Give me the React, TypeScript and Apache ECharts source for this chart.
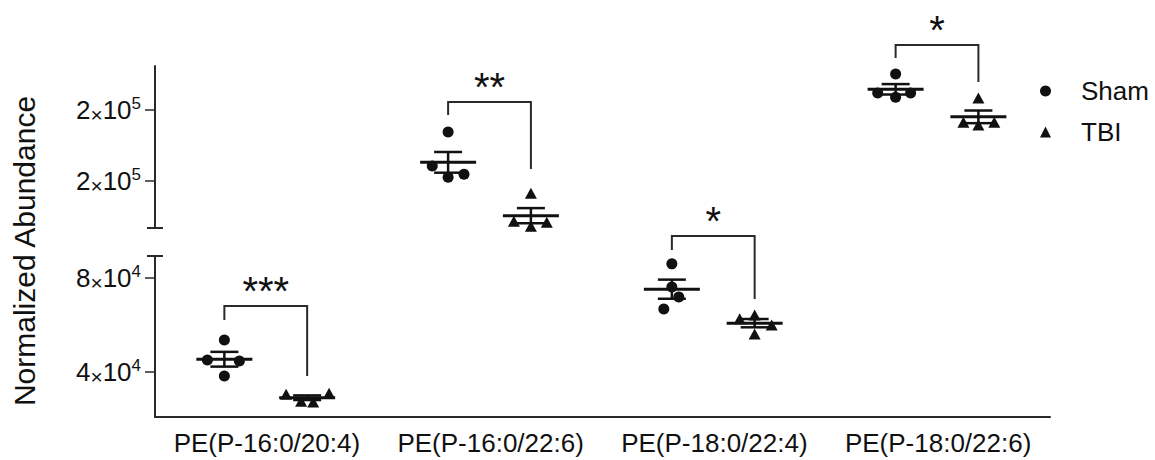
import React, { useEffect, useRef } from 'react';
import * as echarts from 'echarts';

// ---------- data ----------
const categories = ['PE(P-16:0/20:4)', 'PE(P-16:0/22:6)', 'PE(P-18:0/22:4)', 'PE(P-18:0/22:6)'];
// which part of the broken y axis each lipid is drawn on
const segmentOf = ['lower', 'upper', 'lower', 'upper'];

const shamValues = [
  [53600, 45100, 44700, 38300],
  [184500, 160600, 152800, 154900],
  [86000, 76200, 71900, 66800],
  [225400, 212000, 209000, 212000],
];
const tbiValues = [
  [30500, 27500, 27200, 31000],
  [141500, 121800, 118300, 121100],
  [62600, 64300, 60000, 56200],
  [208500, 191500, 189400, 191500],
];
// horizontal scatter of overlapping points, in category units
const shamJitter = [
  [0, -0.076, 0.067, 0],
  [0, -0.071, 0, 0.071],
  [0, 0, 0.031, -0.036],
  [0, -0.08, 0, 0.067],
];
const tbiJitter = [
  [-0.094, -0.027, 0.027, 0.098],
  [0, -0.076, 0, 0.071],
  [-0.067, 0, 0.076, 0],
  [0, -0.067, 0, 0.071],
];

// significance brackets
const sigLabels = ['***', '**', '*', '*'];
const sigTop = [68100, 205600, 97900, 245800];
const sigShamEnd = [62100, 196500, 91900, 236600];
const sigTbiEnd = [38300, 158500, 71100, 219700];

const upperTicks = [150000, 200000];
const lowerTicks = [40000, 80000];
const upperRange = [117000, 231000];
const lowerRange = [20850, 89350];

// ---------- layout ----------
const SHAM_X = -0.19;
const TBI_X = 0.18;
const GRID_LEFT = 155;
const GRID_RIGHT = 105;
const UPPER_TOP = 66;
const UPPER_H = 162;
const LOWER_TOP = 256;
const LOWER_H = 161;
const FONT = '"Liberation Sans", Arial, Helvetica, sans-serif';
const INK = '#111';
const AXIS = '#2a2a2a';

const mean = (a: number[]) => a.reduce((s, v) => s + v, 0) / a.length;
const sem = (a: number[]) => {
  const m = mean(a);
  const v = a.reduce((s, x) => s + (x - m) * (x - m), 0) / (a.length - 1);
  return Math.sqrt(v) / Math.sqrt(a.length);
};

const groupsOn = (seg: string) => categories.map((_, i) => i).filter((i) => segmentOf[i] === seg);

const pointsFor = (seg: string, values: number[][], jitter: number[][], off: number) =>
  groupsOn(seg).flatMap((g) => values[g].map((v, i) => [g + off + jitter[g][i], v]));

const statsFor = (seg: string) =>
  groupsOn(seg).flatMap((g) => [
    [g + SHAM_X, mean(shamValues[g]), sem(shamValues[g])],
    [g + TBI_X, mean(tbiValues[g]), sem(tbiValues[g])],
  ]);

const sigFor = (seg: string) =>
  groupsOn(seg).map((g) => [g, sigTop[g], sigShamEnd[g], sigTbiEnd[g]]);

const sciFormatter = (v: number) => {
  const e = Math.floor(Math.log10(v));
  const m = Math.round(v / Math.pow(10, e));
  return `{m|${m}}{x|×}{m|10}{e|${e}}`;
};

const yLabel = (ticks: number[]) => ({
  customValues: ticks,
  formatter: sciFormatter,
  margin: 14,
  rich: {
    m: { fontSize: 26, lineHeight: 30, color: INK, fontFamily: FONT },
    x: { fontSize: 21, lineHeight: 26, verticalAlign: 'bottom', color: INK, fontFamily: FONT },
    e: { fontSize: 17, lineHeight: 22, verticalAlign: 'top', color: INK, fontFamily: FONT },
  },
});

const renderMeanSem = (params: any, api: any) => {
  const x = api.value(0);
  const m = api.value(1);
  const s = api.value(2);
  const [cx, cy] = api.coord([x, m]);
  const yt = api.coord([x, m + s])[1];
  const yb = api.coord([x, m - s])[1];
  const st = { stroke: INK, lineWidth: 2.5 };
  return {
    type: 'group',
    children: [
      { type: 'line', shape: { x1: cx - 28, y1: cy, x2: cx + 28, y2: cy }, style: { stroke: INK, lineWidth: 3 } },
      { type: 'line', shape: { x1: cx, y1: yt, x2: cx, y2: yb }, style: st },
      { type: 'line', shape: { x1: cx - 14, y1: yt, x2: cx + 14, y2: yt }, style: st },
      { type: 'line', shape: { x1: cx - 14, y1: yb, x2: cx + 14, y2: yb }, style: st },
    ],
  };
};

const renderSig = (params: any, api: any) => {
  const g = api.value(0);
  const top = api.value(1);
  const lEnd = api.value(2);
  const rEnd = api.value(3);
  const [lx, ty] = api.coord([g + SHAM_X, top]);
  const [rx] = api.coord([g + TBI_X, top]);
  const ly = api.coord([g + SHAM_X, lEnd])[1];
  const ry = api.coord([g + TBI_X, rEnd])[1];
  return {
    type: 'group',
    children: [
      {
        type: 'polyline',
        shape: { points: [[lx, ly], [lx, ty], [rx, ty], [rx, ry]] },
        style: { stroke: AXIS, lineWidth: 2, fill: 'none' },
      },
      {
        type: 'text',
        x: (lx + rx) / 2,
        y: ty - 15,
        style: {
          text: sigLabels[g],
          fontSize: 40,
          fontFamily: FONT,
          fill: INK,
          align: 'center',
          verticalAlign: 'middle',
          textAlign: 'center',
          textVerticalAlign: 'middle',
        },
      },
    ],
  };
};

export default function App() {
  const ref = useRef<HTMLDivElement>(null);

  useEffect(() => {
    if (!ref.current) return;
    const chart = echarts.init(ref.current, undefined, { renderer: 'svg' });
    const yAxisCommon = {
      type: 'value',
      splitLine: { show: false },
      axisLine: { show: true, onZero: false, lineStyle: { color: AXIS, width: 2 } },
    };
    const pointStyle = { color: INK, opacity: 1 };
    chart.setOption({
      animation: false,
      backgroundColor: '#ffffff',
      textStyle: { fontFamily: FONT },
      grid: [
        { left: GRID_LEFT, right: GRID_RIGHT, top: UPPER_TOP, height: UPPER_H },
        { left: GRID_LEFT, right: GRID_RIGHT, top: LOWER_TOP, height: LOWER_H },
      ],
      xAxis: [
        { type: 'value', gridIndex: 0, min: -0.5, max: 3.5, show: false },
        { type: 'value', gridIndex: 1, min: -0.5, max: 3.5, show: false },
        {
          type: 'category',
          gridIndex: 1,
          position: 'bottom',
          data: categories,
          boundaryGap: true,
          axisLine: { onZero: false, lineStyle: { color: AXIS, width: 2 } },
          axisTick: { alignWithLabel: true, length: 10, lineStyle: { color: AXIS, width: 1.5 } },
          axisLabel: { interval: 0, fontSize: 26, color: INK, margin: 13, fontFamily: FONT },
        },
      ],
      yAxis: [
        {
          ...yAxisCommon,
          gridIndex: 0,
          min: upperRange[0],
          max: upperRange[1],
          axisTick: { show: true, customValues: upperTicks, length: 10, lineStyle: { color: AXIS, width: 1.5 } },
          axisLabel: yLabel(upperTicks),
        },
        {
          ...yAxisCommon,
          gridIndex: 1,
          min: lowerRange[0],
          max: lowerRange[1],
          axisTick: { show: true, customValues: lowerTicks, length: 10, lineStyle: { color: AXIS, width: 1.5 } },
          axisLabel: yLabel(lowerTicks),
        },
      ],
      legend: {
        orient: 'vertical',
        left: 1035,
        top: 73,
        itemWidth: 11,
        itemHeight: 11,
        itemGap: 15,
        data: [
          { name: 'Sham', icon: 'circle', itemStyle: { opacity: 1 } },
          { name: 'TBI', icon: 'triangle', itemStyle: { opacity: 1 } },
        ],
        textStyle: { fontSize: 26, color: INK, fontFamily: FONT, padding: [0, 0, 0, 25] },
      },
      series: [
        {
          name: 'Sham', type: 'scatter', xAxisIndex: 0, yAxisIndex: 0, z: 4,
          symbol: 'circle', symbolSize: 11, itemStyle: pointStyle,
          data: pointsFor('upper', shamValues, shamJitter, SHAM_X),
        },
        {
          name: 'Sham', type: 'scatter', xAxisIndex: 1, yAxisIndex: 1, z: 4,
          symbol: 'circle', symbolSize: 11, itemStyle: pointStyle,
          data: pointsFor('lower', shamValues, shamJitter, SHAM_X),
        },
        {
          name: 'TBI', type: 'scatter', xAxisIndex: 0, yAxisIndex: 0, z: 4,
          symbol: 'triangle', symbolSize: [12, 11], itemStyle: pointStyle,
          data: pointsFor('upper', tbiValues, tbiJitter, TBI_X),
        },
        {
          name: 'TBI', type: 'scatter', xAxisIndex: 1, yAxisIndex: 1, z: 4,
          symbol: 'triangle', symbolSize: [12, 11], itemStyle: pointStyle,
          data: pointsFor('lower', tbiValues, tbiJitter, TBI_X),
        },
        {
          name: 'meanSemUpper', type: 'custom', xAxisIndex: 0, yAxisIndex: 0, z: 3,
          renderItem: renderMeanSem, data: statsFor('upper'),
        },
        {
          name: 'meanSemLower', type: 'custom', xAxisIndex: 1, yAxisIndex: 1, z: 3,
          renderItem: renderMeanSem, data: statsFor('lower'),
        },
        {
          name: 'sigUpper', type: 'custom', xAxisIndex: 0, yAxisIndex: 0, z: 3, clip: false,
          renderItem: renderSig, data: sigFor('upper'),
        },
        {
          name: 'sigLower', type: 'custom', xAxisIndex: 1, yAxisIndex: 1, z: 3, clip: false,
          renderItem: renderSig, data: sigFor('lower'),
        },
      ],
      graphic: [
        {
          type: 'text',
          x: 24,
          y: 251,
          rotation: Math.PI / 2,
          style: {
            text: 'Normalized Abundance',
            fontSize: 30,
            fontFamily: FONT,
            fill: INK,
            align: 'center',
            verticalAlign: 'middle',
          },
        },
        {
          type: 'line',
          shape: { x1: GRID_LEFT - 8, y1: UPPER_TOP + UPPER_H, x2: GRID_LEFT + 8, y2: UPPER_TOP + UPPER_H },
          style: { stroke: AXIS, lineWidth: 2 },
        },
        {
          type: 'line',
          shape: { x1: GRID_LEFT - 8, y1: LOWER_TOP, x2: GRID_LEFT + 8, y2: LOWER_TOP },
          style: { stroke: AXIS, lineWidth: 2 },
        },
      ],
    });
    return () => chart.dispose();
  }, []);

  return (
    <div
      ref={ref}
      style={{ position: 'absolute', left: 0, top: 0, width: 1155, height: 460, background: '#fff' }}
    />
  );
}
